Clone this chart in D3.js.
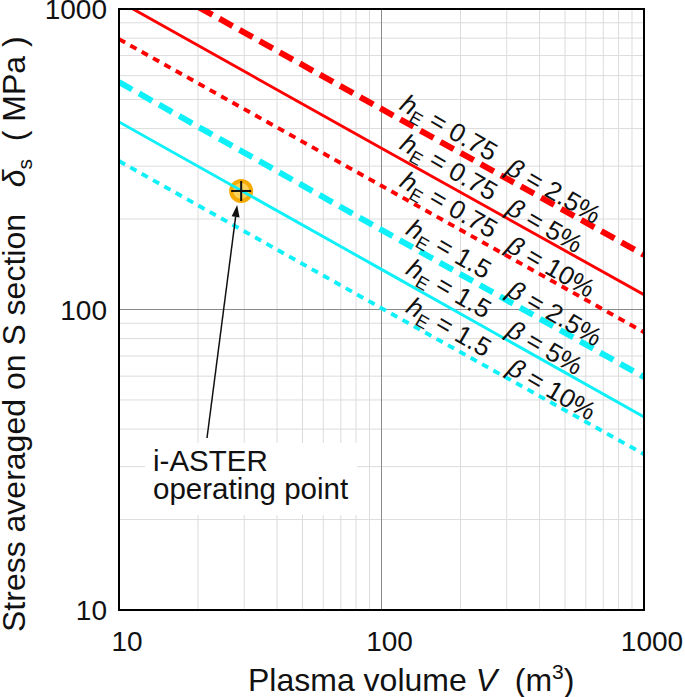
<!DOCTYPE html>
<html>
<head>
<meta charset="utf-8">
<script src="https://cdn.jsdelivr.net/npm/d3@7"></script>
<style>
  html, body { margin: 0; padding: 0; background: #fff; }
  svg { display: block; font-family: "Liberation Sans", Arial, sans-serif; }
</style>
</head>
<body>
<svg id="chart" width="685" height="697"></svg>
<script>
// ---------------- data ----------------
const volumes = [10, 100, 1000];                 // plasma volume V (m^3)
const hELabels = ["0.75", "0.75", "0.75", "1.5", "1.5", "1.5"];
const betaLabels = ["2.5%", "5%", "10%", "2.5%", "5%", "10%"];
const stress_h075_b25 = [1425, 465, 152];
const stress_h075_b5  = [1062, 344, 112];
const stress_h075_b10 = [794, 258, 84];
const stress_h15_b25  = [571, 184, 59.6];
const stress_h15_b5   = [421, 136, 43.9];
const stress_h15_b10  = [312, 101, 33];
const operatingPoint = { V: 29.2, stress: 248 };
const xTicks = [10, 100, 1000];
const yTicks = [10, 100, 1000];

const seriesValues = [stress_h075_b25, stress_h075_b5, stress_h075_b10,
                      stress_h15_b25, stress_h15_b5, stress_h15_b10];
const seriesColor = ["red", "red", "red", "cyan", "cyan", "cyan"];
const seriesStyle = ["dashed", "solid", "dotted", "dashed", "solid", "dotted"];

// ---------------- layout ----------------
const svg = d3.select("#chart");
const L = 119, R = 644, T = 9, B = 610;
const x = d3.scaleLog().domain([10, 1000]).range([L, R]);
const y = d3.scaleLog().domain([10, 1000]).range([B, T]);

const colors = { red: "#ff0000", cyan: "#0ff0f8" };
const styles = {
  dashed: { w: 6, dash: "15,8" },
  solid:  { w: 2.9, dash: null },
  dotted: { w: 3.9, dash: "7,6" }
};

svg.append("defs").append("clipPath").attr("id", "clip")
  .append("rect").attr("x", L).attr("y", T).attr("width", R - L).attr("height", B - T);

// grid
const minor = [];
[10, 100].forEach(d => { for (let k = 2; k <= 9; k++) minor.push(d * k); });
const grid = svg.append("g");
grid.selectAll(".gx").data(minor).join("line")
  .attr("x1", d => x(d)).attr("x2", d => x(d)).attr("y1", T).attr("y2", B)
  .attr("stroke", "#dcdcdc").attr("stroke-width", 1);
grid.selectAll(".gy").data(minor).join("line")
  .attr("y1", d => y(d)).attr("y2", d => y(d)).attr("x1", L).attr("x2", R)
  .attr("stroke", "#dcdcdc").attr("stroke-width", 1);
grid.append("line").attr("x1", x(100)).attr("x2", x(100)).attr("y1", T).attr("y2", B)
  .attr("stroke", "#8a8a8a").attr("stroke-width", 1);
grid.append("line").attr("y1", y(100)).attr("y2", y(100)).attr("x1", L).attr("x2", R)
  .attr("stroke", "#8a8a8a").attr("stroke-width", 1);

// annotation text box (white background)
svg.append("rect").attr("x", 145).attr("y", 443).attr("width", 212).attr("height", 72)
  .attr("fill", "#fff");

// operating point marker (behind lines)
svg.append("circle")
  .attr("cx", x(operatingPoint.V)).attr("cy", y(operatingPoint.stress)).attr("r", 10)
  .attr("fill", "#fbd25a").attr("stroke", "#f5ab00").attr("stroke-width", 4);

// lines
const lineGen = d3.line().x((d, i) => x(volumes[i])).y(d => y(d));
const linesG = svg.append("g").attr("clip-path", "url(#clip)");
seriesValues.forEach((vals, i) => {
  const st = styles[seriesStyle[i]];
  linesG.append("path").datum(vals)
    .attr("d", lineGen)
    .attr("fill", "none")
    .attr("stroke", colors[seriesColor[i]])
    .attr("stroke-width", st.w)
    .attr("stroke-dasharray", st.dash);
});

// operating point cross
const px = x(operatingPoint.V), py = y(operatingPoint.stress);
svg.append("line").attr("x1", px - 10).attr("x2", px + 10).attr("y1", py).attr("y2", py)
  .attr("stroke", "#111").attr("stroke-width", 2);
svg.append("line").attr("x1", px).attr("x2", px).attr("y1", py - 10).attr("y2", py + 10)
  .attr("stroke", "#111").attr("stroke-width", 2);

// arrow
const tail = [207, 438], head = [px - 4, py + 14];
const ang = Math.atan2(head[1] - tail[1], head[0] - tail[0]);
const ah = 12, aw = 4;
const base = [head[0] - ah * Math.cos(ang), head[1] - ah * Math.sin(ang)];
svg.append("line").attr("x1", tail[0]).attr("y1", tail[1]).attr("x2", base[0]).attr("y2", base[1])
  .attr("stroke", "#111").attr("stroke-width", 1.5);
svg.append("path")
  .attr("d", `M${head[0]},${head[1]} L${base[0] + aw * Math.sin(ang)},${base[1] - aw * Math.cos(ang)} L${base[0] - aw * Math.sin(ang)},${base[1] + aw * Math.cos(ang)} Z`)
  .attr("fill", "#111");

svg.append("text").attr("x", 153).attr("y", 471).attr("font-size", 29.5).attr("fill", "#111").text("i-ASTER");
svg.append("text").attr("x", 153).attr("y", 499).attr("font-size", 29.5).attr("fill", "#111").text("operating point");

// frame
svg.append("rect").attr("x", L).attr("y", T).attr("width", R - L).attr("height", B - T)
  .attr("fill", "none").attr("stroke", "#000").attr("stroke-width", 2);

// tick labels
svg.selectAll(".xt").data(xTicks).join("text")
  .attr("x", d => x(d) + 8).attr("y", 651).attr("text-anchor", "middle")
  .attr("font-size", 28).attr("fill", "#111").text(d => d);
svg.selectAll(".yt").data(yTicks).join("text")
  .attr("x", 107).attr("y", d => y(d)).attr("dy", "0.36em").attr("text-anchor", "end")
  .attr("font-size", 28).attr("fill", "#111").text(d => d);

// axis titles
const xt = svg.append("text").attr("x", 248).attr("y", 691).attr("font-size", 32).attr("fill", "#111");
xt.append("tspan").text("Plasma volume ");
xt.append("tspan").attr("font-style", "italic").text("V");
xt.append("tspan").text("\u00a0 (m");
xt.append("tspan").attr("font-size", 21).attr("dy", -12).text("3");
xt.append("tspan").attr("dy", 12).text(")");

const yt = svg.append("text").attr("transform", "translate(25,632) rotate(-90)")
  .attr("font-size", 32).attr("fill", "#111");
yt.append("tspan").text("Stress averaged on S section\u00a0\u00a0 ");
yt.append("tspan").attr("font-style", "italic").text("\u03b4");
yt.append("tspan").attr("font-size", 21).attr("dy", 7).text("s");
yt.append("tspan").attr("dy", -7).text("\u00a0\u00a0(\u00a0MPa\u00a0)");

// line labels, placed along each line
function valueAt(vals, V) {
  const lv = Math.log10(V);
  for (let i = 0; i < volumes.length - 1; i++) {
    const a = Math.log10(volumes[i]), b = Math.log10(volumes[i + 1]);
    if (lv <= b || i === volumes.length - 2) {
      const t = (lv - a) / (b - a);
      return Math.pow(10, Math.log10(vals[i]) + t * (Math.log10(vals[i + 1]) - Math.log10(vals[i])));
    }
  }
}
const angle = 30;
const hECenterX = 449, betaCenterX = [554, 545, 551, 555, 545, 552];
seriesValues.forEach((vals, i) => {
  const Vh = x.invert(hECenterX);
  const ch = [hECenterX, y(valueAt(vals, Vh)) - 19];
  const t1 = svg.append("text")
    .attr("transform", `translate(${ch[0]},${ch[1]}) rotate(${angle})`)
    .attr("text-anchor", "middle").attr("dy", "0.35em")
    .attr("font-size", 26).attr("fill", "#111");
  t1.append("tspan").attr("font-style", "italic").text("h");
  t1.append("tspan").attr("font-size", 18).attr("dy", 6).text("E");
  t1.append("tspan").attr("dy", -6).text(" = " + hELabels[i]);

  const bx = betaCenterX[i];
  const Vb = x.invert(bx);
  const cb = [bx, y(valueAt(vals, Vb)) - 14];
  const t2 = svg.append("text")
    .attr("transform", `translate(${cb[0]},${cb[1]}) rotate(${angle})`)
    .attr("text-anchor", "middle").attr("dy", "0.35em")
    .attr("font-size", 26).attr("fill", "#111");
  t2.append("tspan").attr("font-style", "italic").text("\u03b2");
  t2.append("tspan").text(" = " + betaLabels[i]);
});
</script>
</body>
</html>
